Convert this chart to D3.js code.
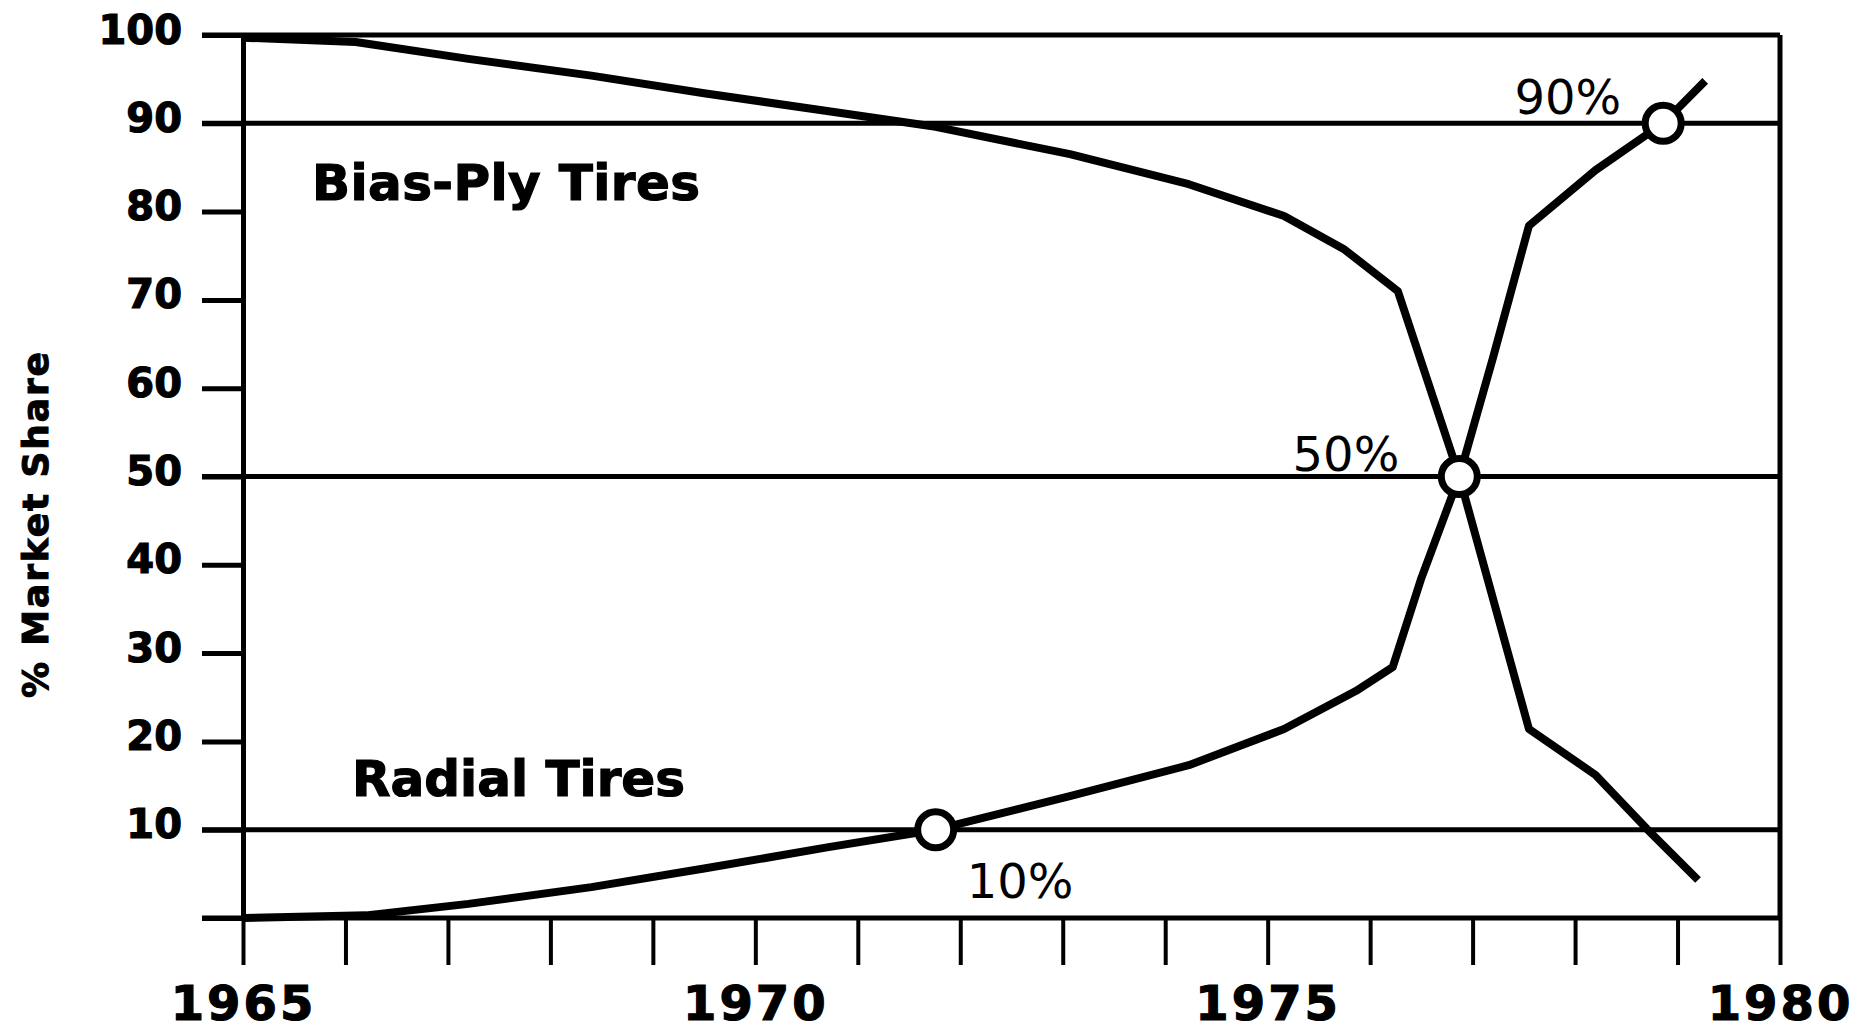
<!DOCTYPE html>
<html lang="en">
<head>
<meta charset="utf-8">
<title>Radial vs bias-ply tire market share</title>
<script src="https://d3js.org/d3.v7.min.js"></script>
<style>
  body {
    margin: 0;
    background: #fff;
  }
  .axis text {
    font-family: 'DejaVu Sans', sans-serif;
    font-weight: bold;
    fill: #000;
    stroke: #000;
    stroke-width: 1.2px;
  }
  .seriesLabel {
    font-family: 'DejaVu Sans', sans-serif;
    font-weight: bold;
    font-size: 50px;
    stroke: #000;
    stroke-width: 1.2px;
  }
  .pctLabel {
    font-family: 'DejaVu Sans', sans-serif;
    font-size: 48px;
  }
</style>
</head>
<body>
<div id="chart"></div>

<script>

// data
var radialYears = [1965, 1966.2, 1967.2, 1968.4, 1969.5, 1970.7, 1971.76, 1973.07, 1974.23, 1975.16, 1975.86, 1976.22, 1976.5, 1976.87, 1977.2, 1977.55, 1978.2, 1978.86, 1979.27];
var radialShare = [0, 0.3, 1.6, 3.5, 5.6, 8.0, 10, 13.8, 17.3, 21.4, 25.7, 28.4, 38.5, 50, 63.5, 78.4, 84.7, 90, 94.8];

var biasYears = [1965, 1966.1, 1967.2, 1968.4, 1969.5, 1970.7, 1971.76, 1973.07, 1974.23, 1975.16, 1975.75, 1976.27, 1976.87, 1977.55, 1978.2, 1978.7, 1979.2];
var biasShare = [99.7, 99.2, 97.3, 95.4, 93.4, 91.4, 89.6, 86.5, 83.1, 79.5, 75.7, 71, 50, 21.4, 16.2, 10.1, 4.3];

// marked crossing points
var markYears = [1971.76, 1976.87, 1978.86];
var markShare = [10, 50, 90];
var markText = ["10%", "50%", "90%"];

var yTicks = [10, 20, 30, 40, 50, 60, 70, 80, 90, 100];
var gridValues = [0, 10, 50, 90, 100];
var xTicks = d3.range(1965, 1981);
var xLabels = [1965, 1970, 1975, 1980];

// set the dimensions and margins of the graph
var margin = {top: 35, right: 89, bottom: 117, left: 243},
    width = 1869 - margin.left - margin.right,
    height = 1035 - margin.top - margin.bottom;

var svg = d3.select("#chart")
  .append("svg")
    .attr("width", width + margin.left + margin.right)
    .attr("height", height + margin.top + margin.bottom)
  .append("g")
    .attr("transform", "translate(" + margin.left + "," + margin.top + ")");

var x = d3.scaleLinear()
  .domain([1965, 1980])
  .range([0, width]);

var y = d3.scaleLinear()
  .domain([0, 100])
  .range([height, 0]);

// horizontal rules (frame top, bottom axis and the 10/50/90 lines)
svg.selectAll(".grid")
  .data(gridValues)
  .enter()
  .append("line")
    .attr("class", "grid")
    .attr("x1", -41)
    .attr("x2", x(1980))
    .attr("y1", function(d) { return y(d) })
    .attr("y2", function(d) { return y(d) })
    .attr("stroke", "#000")
    .attr("stroke-width", 5);

// right edge of the frame
svg.append("line")
  .attr("x1", x(1980))
  .attr("x2", x(1980))
  .attr("y1", y(100))
  .attr("y2", y(0))
  .attr("stroke", "#000")
  .attr("stroke-width", 5);

// Y axis
var yAxis = svg.append("g")
  .attr("class", "axis yaxis")
  .call(d3.axisLeft(y).tickValues(yTicks).tickSize(41).tickPadding(20));
yAxis.select(".domain")
  .attr("stroke-width", 5);
yAxis.selectAll(".tick line")
  .attr("stroke-width", 5);
yAxis.selectAll(".tick text")
  .attr("dy", "0.2em")
  .style("font-size", "40px");

// X axis
var xAxis = svg.append("g")
  .attr("class", "axis xaxis")
  .attr("transform", "translate(0," + height + ")")
  .call(d3.axisBottom(x)
    .tickValues(xTicks)
    .tickSize(47)
    .tickPadding(21)
    .tickFormat(function(d) { return xLabels.indexOf(d) >= 0 ? d : ""; }));
xAxis.select(".domain").remove();
xAxis.selectAll(".tick line")
  .attr("stroke-width", 4);
xAxis.selectAll(".tick text")
  .style("font-size", "48px")
  .attr("letter-spacing", "3px");

// y label
svg.append("text")
  .attr("transform", "rotate(-90)")
  .attr("x", -(525 - margin.top))
  .attr("y", -margin.left + 48)
  .attr("text-anchor", "middle")
  .attr("textLength", 346)
  .attr("lengthAdjust", "spacing")
  .style("font-family", "'DejaVu Sans', sans-serif")
  .style("font-weight", "bold")
  .style("font-size", "36px")
  .style("stroke", "#000")
  .style("stroke-width", "1px")
  .text("% Market Share");

var line = d3.line()
  .x(function(d) { return x(d[0]) })
  .y(function(d) { return y(d[1]) });

var radialData = radialYears.map(function(yr, i) { return [yr, radialShare[i]]; });
var biasData = biasYears.map(function(yr, i) { return [yr, biasShare[i]]; });

svg.append("path")
  .datum(biasData)
  .attr("d", line)
  .attr("fill", "none")
  .attr("stroke", "#000")
  .attr("stroke-width", 8)
  .attr("stroke-linejoin", "round");

svg.append("path")
  .datum(radialData)
  .attr("d", line)
  .attr("fill", "none")
  .attr("stroke", "#000")
  .attr("stroke-width", 8)
  .attr("stroke-linejoin", "round");

// series names
svg.append("text")
  .attr("class", "seriesLabel")
  .attr("x", 312 - margin.left)
  .attr("y", 200 - margin.top)
  .attr("textLength", 388)
  .attr("lengthAdjust", "spacing")
  .text("Bias-Ply Tires");

svg.append("text")
  .attr("class", "seriesLabel")
  .attr("x", 352 - margin.left)
  .attr("y", 796 - margin.top)
  .text("Radial Tires");

// open circles at 10 / 50 / 90 percent
var marks = markYears.map(function(yr, i) { return {year: yr, value: markShare[i], label: markText[i]}; });

svg.selectAll(".mark")
  .data(marks)
  .enter()
  .append("circle")
    .attr("class", "mark")
    .attr("cx", function(d) { return x(d.year) })
    .attr("cy", function(d) { return y(d.value) })
    .attr("r", 18)
    .attr("fill", "#fff")
    .attr("stroke", "#000")
    .attr("stroke-width", 7);

// label offsets from their circle
var labelOffsets = [{dx: 31, dy: 68, anchor: "start"}, {dx: -60, dy: -6, anchor: "end"}, {dx: -42, dy: -9, anchor: "end"}];

svg.selectAll(".pctLabel")
  .data(marks)
  .enter()
  .append("text")
    .attr("class", "pctLabel")
    .attr("x", function(d, i) { return x(d.year) + labelOffsets[i].dx })
    .attr("y", function(d, i) { return y(d.value) + labelOffsets[i].dy })
    .attr("text-anchor", function(d, i) { return labelOffsets[i].anchor })
    .text(function(d) { return d.label });

</script>
</body>
</html>
